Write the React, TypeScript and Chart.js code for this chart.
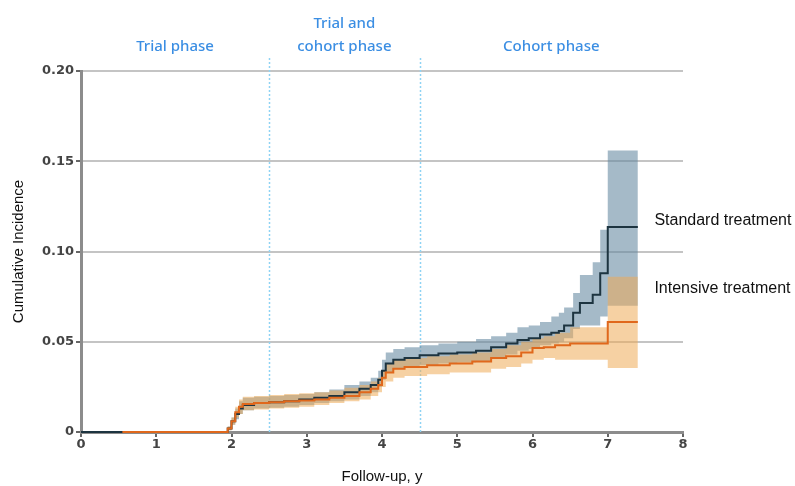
import React, { useEffect, useRef } from "react";
import { Chart, registerables } from "chart.js";

Chart.register(...registerables);

// ---- data ----
const stdTimes = [0, 1.9, 1.95, 2.0, 2.05, 2.1, 2.15, 2.3, 2.5, 2.7, 2.9, 3.1, 3.3, 3.5, 3.7, 3.85, 3.95, 4.0, 4.05, 4.15, 4.3, 4.5, 4.75, 5.0, 5.25, 5.45, 5.65, 5.8, 5.95, 6.1, 6.25, 6.35, 6.42, 6.54, 6.63, 6.8, 6.9, 7.0, 7.4];
const stdValues = [0, 0, 0.002, 0.006, 0.010, 0.013, 0.015, 0.016, 0.0165, 0.017, 0.018, 0.019, 0.020, 0.022, 0.024, 0.026, 0.029, 0.034, 0.038, 0.040, 0.041, 0.0425, 0.0435, 0.044, 0.045, 0.047, 0.049, 0.051, 0.052, 0.054, 0.055, 0.056, 0.059, 0.066, 0.0715, 0.076, 0.088, 0.1136, 0.1136];
const stdUpper = [0, 0, 0.003, 0.008, 0.013, 0.017, 0.019, 0.0195, 0.020, 0.0205, 0.021, 0.022, 0.0235, 0.026, 0.028, 0.030, 0.034, 0.040, 0.044, 0.046, 0.047, 0.048, 0.049, 0.050, 0.0515, 0.053, 0.055, 0.058, 0.059, 0.061, 0.064, 0.066, 0.069, 0.077, 0.087, 0.094, 0.112, 0.156, 0.156];
const stdLower = [0, 0, 0.001, 0.004, 0.007, 0.010, 0.012, 0.013, 0.0135, 0.014, 0.015, 0.016, 0.017, 0.018, 0.020, 0.022, 0.025, 0.029, 0.033, 0.035, 0.036, 0.037, 0.038, 0.0385, 0.039, 0.041, 0.043, 0.045, 0.046, 0.048, 0.049, 0.050, 0.052, 0.057, 0.059, 0.059, 0.064, 0.070, 0.070];

const intTimes = [0.55, 1.9, 1.95, 2.0, 2.05, 2.1, 2.15, 2.3, 2.5, 2.7, 2.9, 3.1, 3.3, 3.5, 3.7, 3.85, 3.95, 4.0, 4.05, 4.15, 4.3, 4.6, 4.9, 5.2, 5.45, 5.65, 5.85, 6.0, 6.15, 6.3, 6.5, 7.0, 7.4];
const intValues = [0, 0, 0.002, 0.006, 0.011, 0.014, 0.0155, 0.016, 0.0165, 0.017, 0.0175, 0.018, 0.019, 0.020, 0.022, 0.024, 0.026, 0.030, 0.033, 0.035, 0.036, 0.037, 0.038, 0.039, 0.041, 0.042, 0.044, 0.0465, 0.047, 0.048, 0.049, 0.061, 0.061];
const intUpper = [0, 0, 0.003, 0.008, 0.014, 0.018, 0.0195, 0.020, 0.0205, 0.021, 0.0215, 0.022, 0.023, 0.0245, 0.026, 0.028, 0.030, 0.034, 0.038, 0.040, 0.041, 0.042, 0.043, 0.044, 0.046, 0.048, 0.050, 0.052, 0.053, 0.055, 0.058, 0.086, 0.086];
const intLower = [0, 0, 0.001, 0.004, 0.008, 0.010, 0.012, 0.0125, 0.013, 0.0135, 0.014, 0.015, 0.016, 0.017, 0.018, 0.020, 0.022, 0.025, 0.028, 0.030, 0.031, 0.032, 0.033, 0.033, 0.035, 0.036, 0.038, 0.040, 0.041, 0.040, 0.040, 0.0355, 0.0355];

const xTickValues = [0, 1, 2, 3, 4, 5, 6, 7, 8];
const yTickValues = [0, 0.05, 0.1, 0.15, 0.2];
const yTickLabels = ["0", "0.05", "0.10", "0.15", "0.20"];

const phaseLabels = [["Trial phase"], ["Trial and", "cohort phase"], ["Cohort phase"]];
const phaseCenters = [1.25, 3.5, 6.25];
const phaseDividers = [2.5, 4.5];

const seriesLabels = ["Standard treatment", "Intensive treatment"];
const seriesLabelAt = [0.117, 0.0795];
const seriesLabelX = 7.62;

const pts = (t: number[], v: number[]) => t.map((x, i) => ({ x, y: v[i] }));

const annotPlugin = {
  id: "annot",
  beforeDatasetsDraw(chart: any) {
    const { ctx, chartArea, scales } = chart;
    ctx.save();
    ctx.strokeStyle = "#8fd3f4";
    ctx.lineWidth = 1.5;
    ctx.setLineDash([2, 2]);
    phaseDividers.forEach((v) => {
      const x = Math.round(scales.x.getPixelForValue(v)) + 0.5;
      ctx.beginPath();
      ctx.moveTo(x, chartArea.top - 13);
      ctx.lineTo(x, chartArea.bottom);
      ctx.stroke();
    });
    ctx.restore();
  },
  afterDatasetsDraw(chart: any) {
    const { ctx, chartArea, scales } = chart;
    ctx.save();
    ctx.fillStyle = "#3b8ee3";
    ctx.font = "500 15px 'Noto Sans'";
    ctx.textAlign = "center";
    ctx.textBaseline = "middle";
    phaseLabels.forEach((lines, i) => {
      const x = scales.x.getPixelForValue(phaseCenters[i]);
      lines.forEach((ln, j) => {
        const y = chartArea.top - 24 - (lines.length - 1 - j) * 23;
        ctx.fillText(ln, x, y);
      });
    });
    ctx.fillStyle = "#111";
    ctx.font = "16px 'Liberation Sans'";
    ctx.textAlign = "left";
    seriesLabels.forEach((s, i) => {
      ctx.fillText(s, scales.x.getPixelForValue(seriesLabelX), scales.y.getPixelForValue(seriesLabelAt[i]));
    });
    ctx.restore();
  },
};

export default function App() {
  const ref = useRef<HTMLCanvasElement>(null);
  useEffect(() => {
    document.body.style.margin = "0";
    const common = { stepped: "before" as const, pointRadius: 0, clip: 6, tension: 0 };
    const chart = new Chart(ref.current!, {
      type: "line",
      data: {
        datasets: [
          { ...common, label: "int", data: pts(intTimes, intValues), borderColor: "#e0681c", borderWidth: 2, fill: false },
          { ...common, label: "std", data: pts(stdTimes, stdValues), borderColor: "#1d3440", borderWidth: 2, fill: false },
          { ...common, label: "intU", data: pts(intTimes, intUpper), borderWidth: 0, borderColor: "rgba(0,0,0,0)", backgroundColor: "rgba(238,172,88,0.55)", fill: "+1" },
          { ...common, label: "intL", data: pts(intTimes, intLower), borderWidth: 0, borderColor: "rgba(0,0,0,0)", fill: false },
          { ...common, label: "stdU", data: pts(stdTimes, stdUpper), borderWidth: 0, borderColor: "rgba(0,0,0,0)", backgroundColor: "rgba(100,136,160,0.58)", fill: "+1" },
          { ...common, label: "stdL", data: pts(stdTimes, stdLower), borderWidth: 0, borderColor: "rgba(0,0,0,0)", fill: false },
        ],
      },
      options: {
        animation: false,
        responsive: false,
        maintainAspectRatio: false,
        layout: { padding: { top: 71, right: 112, left: 8, bottom: 0 } },
        plugins: { legend: { display: false }, tooltip: { enabled: false } },
        scales: {
          x: {
            type: "linear",
            min: 0,
            max: 8,
            afterFit: (s: any) => { s.height = 54; },
            afterBuildTicks: (s: any) => { s.ticks = xTickValues.map((v) => ({ value: v })); },
            ticks: { color: "#444", font: { family: "DejaVu Sans", weight: "bold", size: 13 }, padding: 0 },
            grid: { drawOnChartArea: false, drawTicks: true, tickLength: 5, tickColor: "#666", lineWidth: 2 },
            border: { color: "#8c8c8c", width: 3 },
            title: { display: true, text: "Follow-up, y", color: "#111", font: { family: "Liberation Sans", size: 15 }, padding: { top: 6, bottom: 0 } },
          },
          y: {
            type: "linear",
            min: 0,
            max: 0.2,
            afterFit: (s: any) => { s.width = 73; },
            afterBuildTicks: (s: any) => { s.ticks = yTickValues.map((v) => ({ value: v })); },
            ticks: {
              color: "#444",
              font: { family: "DejaVu Sans", weight: "bold", size: 13 },
              padding: 2,
              callback: (v: any) => yTickLabels[yTickValues.indexOf(Number(v))] ?? "",
            },
            grid: { color: "#c4c4c4", lineWidth: 2, drawTicks: true, tickLength: 5, tickColor: "#666" },
            border: { color: "#8c8c8c", width: 3 },
            title: { display: true, text: "Cumulative Incidence", color: "#111", font: { family: "Liberation Sans", size: 15 }, padding: { top: 2, bottom: 4 } },
          },
        },
      },
      plugins: [annotPlugin],
    });
    return () => chart.destroy();
  }, []);
  return (
    <div style={{ width: 795, height: 486 }}>
      <canvas ref={ref} width={795} height={486} style={{ display: "block" }} />
    </div>
  );
}
